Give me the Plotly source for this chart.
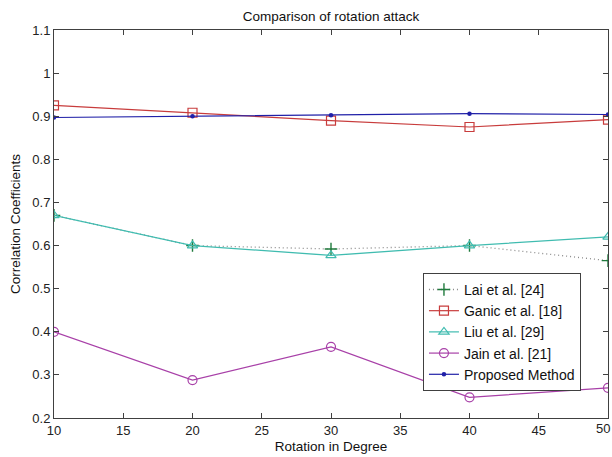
import plotly.graph_objects as go

rotation = [10, 20, 30, 40, 50]
lai = [0.67, 0.60, 0.592, 0.60, 0.565]
ganic = [0.925, 0.908, 0.89, 0.875, 0.892]
liu = [0.67, 0.60, 0.577, 0.60, 0.62]
jain = [0.40, 0.288, 0.365, 0.248, 0.27]
proposed = [0.897, 0.90, 0.902, 0.906, 0.904]

xticks = [10, 15, 20, 25, 30, 35, 40, 45, 50]
xticklabels = ["10", "15", "20", "25", "30", "35", "40", "45", ""]
last_xlabel = "50"
yticks = [0.2, 0.3, 0.4, 0.5, 0.6, 0.7, 0.8, 0.9, 1.0, 1.1]
yticklabels = ["0.2", "0.3", "0.4", "0.5", "0.6", "0.7", "0.8", "0.9", "1", "1.1"]

FONT = "Liberation Sans, Arial, Helvetica"

fig = go.Figure()
fig.add_trace(go.Scatter(x=rotation, y=lai, name="Lai et al. [24]", mode="lines+markers",
                         line=dict(color="#8a8a8a", width=1.3, dash="1px,3px"),
                         marker=dict(symbol="cross-thin-open", size=9, color="#1f7a3c",
                                     line=dict(color="#1f7a3c", width=1.4))))
fig.add_trace(go.Scatter(x=rotation, y=ganic, name="Ganic et al. [18]", mode="lines+markers",
                         line=dict(color="#c83c3c", width=1.2),
                         marker=dict(symbol="square-open", size=9, color="#c83c3c",
                                     line=dict(color="#c83c3c", width=1.2))))
fig.add_trace(go.Scatter(x=rotation, y=liu, name="Liu et al. [29]", mode="lines+markers",
                         line=dict(color="#40bcb0", width=1.2),
                         marker=dict(symbol="triangle-up-open", size=9, color="#40bcb0",
                                     line=dict(color="#40bcb0", width=1.2))))
fig.add_trace(go.Scatter(x=rotation, y=jain, name="Jain et al. [21]", mode="lines+markers",
                         line=dict(color="#a840a8", width=1.2),
                         marker=dict(symbol="circle-open", size=9, color="#a840a8",
                                     line=dict(color="#a840a8", width=1.2))))
fig.add_trace(go.Scatter(x=rotation, y=proposed, name="Proposed Method", mode="lines+markers",
                         line=dict(color="#2020a8", width=1.2),
                         marker=dict(symbol="circle", size=4.5, color="#2020a8")))

axis_common = dict(showgrid=False, zeroline=False, showline=True, linecolor="#404040",
                   linewidth=1, mirror="ticks", ticks="inside", ticklen=5,
                   tickcolor="#404040", automargin=False,
                   tickfont=dict(family=FONT, size=13, color="#222"))

fig.update_layout(
    width=612, height=457,
    margin=dict(l=54, r=4, t=30, b=39, autoexpand=False),
    paper_bgcolor="white", plot_bgcolor="white",
    title=dict(text="Comparison of rotation attack", xref="paper", x=0.5, xanchor="center",
               yref="container", y=0.975, yanchor="top",
               font=dict(family=FONT, size=13.5, color="#111")),
    xaxis=dict(range=[10, 50], tickvals=xticks, ticktext=xticklabels,
               title=dict(text="Rotation in Degree", standoff=4,
                          font=dict(family=FONT, size=13.5, color="#111")),
               **axis_common),
    yaxis=dict(range=[0.2, 1.1], tickvals=yticks, ticktext=yticklabels,
               title=dict(text="Correlation Coefficients", standoff=8,
                          font=dict(family=FONT, size=13.5, color="#111")),
               **axis_common),
    legend=dict(x=0.666, y=0.374, xanchor="left", yanchor="top",
                bordercolor="#404040", borderwidth=1, bgcolor="white",
                font=dict(family=FONT, size=14, color="#111"),
                tracegroupgap=0),
    showlegend=True,
)

fig.add_annotation(x=xticks[-1], xref="x", y=0, yref="paper", text=last_xlabel,
                   showarrow=False, xanchor="right", yanchor="top", xshift=4, yshift=-1,
                   font=dict(family=FONT, size=13, color="#222"))

fig.write_html("out.html")
